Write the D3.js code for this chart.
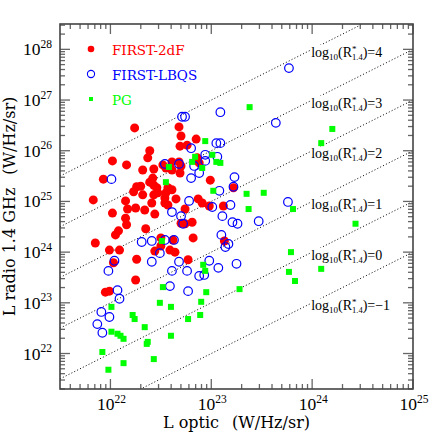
<!DOCTYPE html>
<html>
<head>
<meta charset="utf-8">
<script src="https://cdnjs.cloudflare.com/ajax/libs/d3/7.8.5/d3.min.js"></script>
<style>
  body { margin: 0; background: #fff; }
  svg { display: block; }
</style>
</head>
<body>
<div id="chart"></div>
<script>
// points as [log10 L optic, log10 L radio 1.4 GHz]
var first2dF = [
  [22.24,26.45],[22.68,26.47],[22.70,26.29],[22.85,26.23],[22.69,26.09],[22.76,26.11],
  [22.39,26.00],[22.37,25.86],[22.02,25.80],[22.16,25.72],[22.32,25.62],[22.43,25.64],
  [22.52,25.72],[22.55,25.66],[22.61,25.78],[22.68,25.78],[22.70,25.70],[22.69,25.56],
  [22.61,25.62],[22.86,25.86],[22.88,25.76],[21.93,25.44],[22.42,25.46],[22.43,25.32],
  [22.26,25.29],[22.30,25.30],[22.23,25.19],[22.32,25.13],[22.43,25.13],[22.46,25.27],
  [22.47,25.17],[22.55,25.17],[22.57,25.27],[22.61,25.23],[22.39,25.38],[22.99,25.42],
  [21.83,25.03],[22.15,25.01],[22.41,24.97],[22.54,25.07],[22.54,24.97],[22.57,24.93],
  [22.65,25.05],[22.87,25.05],[22.91,24.97],[22.98,24.91],[22.02,24.77],[22.17,24.85],
  [22.25,24.87],[22.34,24.83],[22.44,24.75],[22.74,24.85],[23.12,24.91],[23.22,25.27],
  [22.15,24.67],[22.16,24.54],[22.08,24.42],[22.05,24.34],[22.35,24.46],[22.70,24.57],
  [22.74,24.56],[22.81,24.59],[21.85,24.18],[21.99,24.04],[22.09,24.04],[22.26,23.86],
  [22.03,23.79],[22.44,24.02],[22.50,24.28],[22.50,24.12],[22.59,24.04],[22.64,24.00],
  [22.62,24.24],[22.82,24.28],[22.77,23.85],[23.13,24.22],[22.25,23.45],[21.95,23.21],
  [21.99,23.23]
];
var firstLBQS = [
  [22.71,26.67],[22.74,26.67],[23.09,26.76],[23.77,27.63],[23.64,26.55],[22.01,25.44],
  [22.80,26.05],[23.05,26.15],[23.09,26.15],[22.54,25.74],[22.68,25.74],[22.83,25.70],
  [22.94,25.92],[22.94,25.80],[23.06,25.88],[22.88,25.56],[22.80,25.46],[23.23,25.48],
  [23.22,25.29],[23.08,25.21],[22.78,25.01],[22.61,24.79],[22.70,24.71],[22.72,24.56],
  [23.01,24.89],[23.19,24.93],[23.11,24.71],[23.21,24.59],[23.26,24.56],[23.47,24.61],
  [23.10,24.34],[23.17,24.16],[23.14,24.10],[23.76,24.99],[22.31,24.20],[22.41,24.22],
  [22.54,24.24],[22.63,24.24],[22.49,23.98],[22.41,23.81],[22.04,23.83],[21.98,23.63],
  [22.07,23.25],[22.09,23.08],[22.61,23.63],[22.76,23.63],[22.59,23.33],[22.77,23.23],
  [22.88,23.53],[22.93,23.55],[22.98,23.83],[23.07,23.69],[23.25,23.77],[21.91,22.82],
  [21.87,22.58],[21.99,22.72],[21.92,22.41],[22.68,23.81]
];
var pg = [
  [23.38,26.86],[22.94,26.19],[22.84,25.88],[22.81,25.78],[23.01,25.92],[23.05,25.78],
  [23.09,25.76],[22.58,25.68],[22.91,25.66],[22.55,25.38],[23.02,25.21],[23.35,25.15],
  [23.52,25.17],[23.37,24.85],[23.81,24.85],[24.20,26.43],[24.09,26.15],[24.43,24.56],
  [23.79,24.00],[23.77,23.61],[23.83,23.43],[24.09,23.67],[23.28,23.27],[22.51,24.22],
  [22.52,23.31],[22.92,23.75],[22.94,23.63],[22.95,23.21],[22.90,23.02],[22.49,23.00],
  [22.60,22.92],[22.01,22.92],[22.22,22.76],[22.24,22.68],[22.77,22.68],[22.89,22.76],
  [22.34,22.52],[22.01,22.43],[22.07,22.39],[22.10,22.35],[22.13,22.29],[22.37,22.23],
  [22.36,22.19],[22.60,22.35],[21.92,22.03],[22.13,21.81],[22.43,21.89],[21.98,21.68]
];

var ratioLevels = [4, 3, 2, 1, 0, -1];   // log10(R*1.4) lines
var xTickExp = [22, 23, 24, 25];
var yTickExp = [22, 23, 24, 25, 26, 27, 28];
var legendNames = ["FIRST-2dF", "FIRST-LBQS", "PG"];

var W = 436, H = 436;
var pL = 60, pT = 24, pR = 413, pB = 389;
var red = "#ff0000", blue = "#0000ff", green = "#00ff00";
var serif = "'Liberation Serif', 'DejaVu Serif', serif";

var x = d3.scaleLog().domain([Math.pow(10, 21.5), 1e25]).range([pL, pR]);
var y = d3.scaleLog().domain([Math.pow(10, 21.3), Math.pow(10, 28.5)]).range([pB, pT]);
var px = function(d) { return x(Math.pow(10, d[0])); };
var py = function(d) { return y(Math.pow(10, d[1])); };

var svg = d3.select("#chart").append("svg")
  .attr("width", W)
  .attr("height", H);

svg.append("clipPath").attr("id", "plotclip")
  .append("rect")
  .attr("x", pL).attr("y", pT)
  .attr("width", pR - pL).attr("height", pB - pT);

// dotted lines of constant radio-loudness
var lines = svg.append("g").attr("clip-path", "url(#plotclip)");
ratioLevels.forEach(function(r) {
  lines.append("line")
    .attr("x1", x(Math.pow(10, 21.5))).attr("y1", y(Math.pow(10, 21.5 + r)))
    .attr("x2", x(1e25)).attr("y2", y(Math.pow(10, 25 + r)))
    .attr("stroke", "#000")
    .attr("stroke-width", 1)
    .attr("stroke-dasharray", "1,2.2");
});

// labels of the lines
ratioLevels.forEach(function(r) {
  var g = svg.append("g");
  var t = g.append("text")
    .attr("x", x(1e24) - 1)
    .attr("y", y(Math.pow(10, r + 23.85)))
    .attr("font-family", serif)
    .attr("font-size", 14)
    .attr("fill", "#000");
  t.append("tspan").text("log");
  t.append("tspan").attr("font-size", 9).attr("dy", 3).text("10");
  t.append("tspan").attr("dy", -3).text("(R");
  t.append("tspan").attr("font-size", 9).attr("dy", -5).text("*");
  t.append("tspan").attr("font-size", 8.5).attr("dx", -4.5).attr("dy", 8).text("1.4");
  t.append("tspan").attr("dy", -3).text(")=" + (r < 0 ? "\u2212" + (-r) : r));
  var bb = t.node().getBBox();
  g.insert("rect", "text")
    .attr("x", bb.x - 1).attr("y", bb.y + 1)
    .attr("width", bb.width + 2).attr("height", bb.height - 2)
    .attr("fill", "#fff");
});

// data
svg.append("g").selectAll("circle")
  .data(first2dF).enter().append("circle")
  .attr("cx", px).attr("cy", py)
  .attr("r", 4.5)
  .attr("fill", red);

svg.append("g").selectAll("circle")
  .data(firstLBQS).enter().append("circle")
  .attr("cx", px).attr("cy", py)
  .attr("r", 4.3)
  .attr("fill", "none")
  .attr("stroke", blue)
  .attr("stroke-width", 1.2);

svg.append("g").selectAll("rect")
  .data(pg).enter().append("rect")
  .attr("x", function(d) { return px(d) - 3; })
  .attr("y", function(d) { return py(d) - 3; })
  .attr("width", 6).attr("height", 6)
  .attr("fill", green);

// ticks on all four sides, pointing inwards
function minorValues(lo, hi) {
  var out = [];
  for (var e = Math.floor(lo); e <= Math.ceil(hi); e++) {
    for (var k = 2; k <= 9; k++) {
      var v = Math.log10(k) + e;
      if (v > lo && v < hi) out.push(Math.pow(10, v));
    }
  }
  return out;
}
var ticks = svg.append("g").attr("stroke", "#666").attr("stroke-width", 1.3);
var xMinor = minorValues(21.5, 25);
var yMinor = minorValues(21.3, 28.5);
xTickExp.forEach(function(e) {
  var xx = x(Math.pow(10, e));
  ticks.append("line").attr("x1", xx).attr("x2", xx).attr("y1", pB).attr("y2", pB - 10);
  ticks.append("line").attr("x1", xx).attr("x2", xx).attr("y1", pT).attr("y2", pT + 10);
});
xMinor.forEach(function(v) {
  var xx = x(v);
  ticks.append("line").attr("x1", xx).attr("x2", xx).attr("y1", pB).attr("y2", pB - 5);
  ticks.append("line").attr("x1", xx).attr("x2", xx).attr("y1", pT).attr("y2", pT + 5);
});
yTickExp.forEach(function(e) {
  var yy = y(Math.pow(10, e));
  ticks.append("line").attr("y1", yy).attr("y2", yy).attr("x1", pL).attr("x2", pL + 10);
  ticks.append("line").attr("y1", yy).attr("y2", yy).attr("x1", pR).attr("x2", pR - 10);
});
yMinor.forEach(function(v) {
  var yy = y(v);
  ticks.append("line").attr("y1", yy).attr("y2", yy).attr("x1", pL).attr("x2", pL + 5);
  ticks.append("line").attr("y1", yy).attr("y2", yy).attr("x1", pR).attr("x2", pR - 5);
});

svg.append("rect")
  .attr("x", pL).attr("y", pT)
  .attr("width", pR - pL).attr("height", pB - pT)
  .attr("fill", "none")
  .attr("stroke", "#444")
  .attr("stroke-width", 1.6);

// tick labels
function powerLabel(t, e) {
  t.append("tspan").text("10");
  t.append("tspan").attr("font-size", 11.5).attr("dy", -7.5).text(e);
}
xTickExp.forEach(function(e) {
  var t = svg.append("text")
    .attr("x", x(Math.pow(10, e)) + 1)
    .attr("y", 410)
    .attr("text-anchor", "middle")
    .attr("font-family", serif)
    .attr("font-size", 17.5)
    .attr("fill", "#000");
  powerLabel(t, e);
});
yTickExp.forEach(function(e) {
  var t = svg.append("text")
    .attr("x", 52)
    .attr("y", y(Math.pow(10, e)) + 6)
    .attr("text-anchor", "end")
    .attr("font-family", serif)
    .attr("font-size", 17.5)
    .attr("fill", "#000");
  powerLabel(t, e);
});

// axis titles
var xt = svg.append("text")
  .attr("x", (pL + pR) / 2)
  .attr("y", 428)
  .attr("text-anchor", "middle")
  .attr("font-family", "'DejaVu Serif', serif")
  .attr("font-size", 16)
  .attr("fill", "#000");
xt.append("tspan").text("L optic");
xt.append("tspan").attr("dx", 13).text("(W/Hz/sr)");

var yt = svg.append("text")
  .attr("transform", "translate(15," + ((pT + pB) / 2) + ") rotate(-90)")
  .attr("text-anchor", "middle")
  .attr("font-family", "'DejaVu Serif', serif")
  .attr("font-size", 16)
  .attr("fill", "#000");
yt.append("tspan").text("L radio 1.4 GHz");
yt.append("tspan").attr("dx", 13).text("(W/Hz/sr)");

// legend
var legendColors = [red, blue, green];
legendNames.forEach(function(name, i) {
  var ly = 49 + i * 25;
  if (i === 0) {
    svg.append("circle").attr("cx", 91).attr("cy", ly).attr("r", 3.3).attr("fill", red);
  } else if (i === 1) {
    svg.append("circle").attr("cx", 91).attr("cy", ly).attr("r", 3.6)
      .attr("fill", "none").attr("stroke", blue).attr("stroke-width", 1.1);
  } else {
    svg.append("rect").attr("x", 89).attr("y", ly - 2).attr("width", 4).attr("height", 4)
      .attr("fill", green);
  }
  svg.append("text")
    .attr("x", 112)
    .attr("y", ly + 5.5)
    .attr("font-family", "'DejaVu Serif', serif")
    .attr("font-size", 13.5)
    .attr("fill", legendColors[i])
    .text(name);
});
</script>
</body>
</html>
